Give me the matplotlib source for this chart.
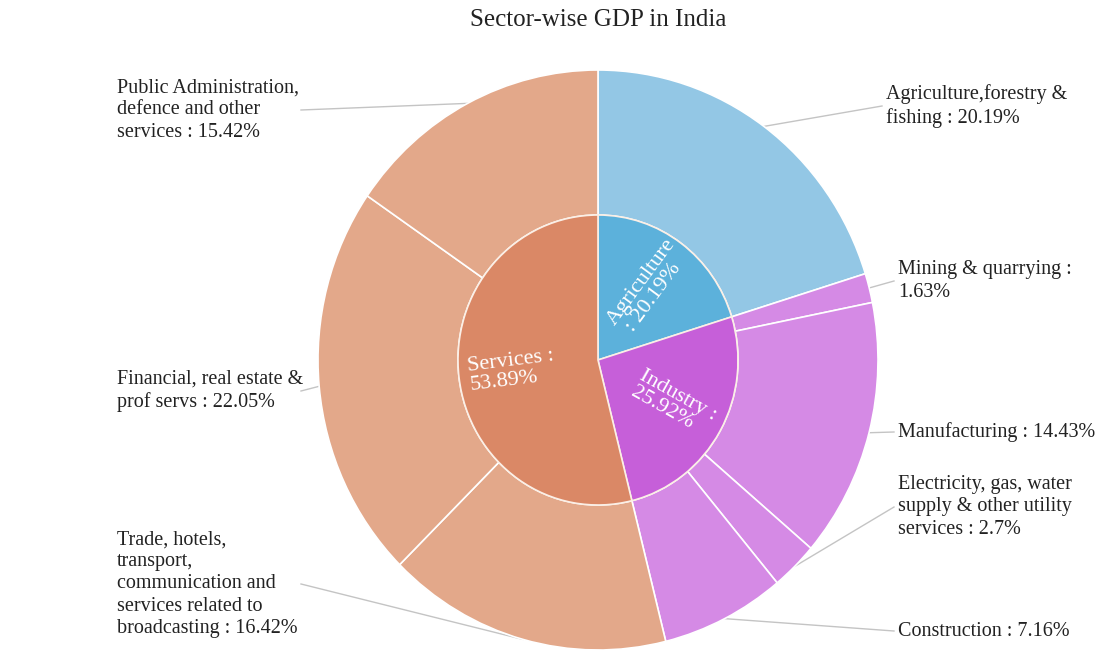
import numpy as np
import matplotlib.pyplot as plt

plt.rcParams['font.family'] = ['Liberation Serif', 'DejaVu Serif']

sectors = ['Agriculture', 'Industry', 'Services']
sector_vals = [20.19, 25.92, 53.89]
sector_cols = ['#5cb1db', '#c65fd9', '#da8866']

subs = ['Agriculture,forestry &\nfishing', 'Mining & quarrying :\n', 'Manufacturing',
        'Electricity, gas, water\nsupply & other utility\nservices', 'Construction',
        'Trade, hotels,\ntransport,\ncommunication and\nservices related to\nbroadcasting',
        'Financial, real estate &\nprof servs', 'Public Administration,\ndefence and other\nservices']
sub_vals = [20.19, 1.63, 14.43, 2.7, 7.16, 16.42, 22.05, 15.42]
sub_cols = ['#93c7e5', '#d58ae5', '#d58ae5', '#d58ae5', '#d58ae5',
            '#e3a88a', '#e3a88a', '#e3a88a']

# label anchor (pixel x, pixel y of block centre, side)
label_pos = [(886, 106, 'r'), (898, 281, 'r'), (898, 432, 'r'), (898, 507, 'r'),
             (898, 631, 'r'), (301, 584, 'l'), (301, 391, 'l'), (301, 110, 'l')]
left_text_x = 117

W, H = 1098, 659
cx, cy, rx, ry = 598, 360, 280, 290

fig = plt.figure(figsize=(W / 100, H / 100), dpi=100)
ax = fig.add_axes([(cx - rx) / W, (H - cy - ry) / H, 2 * rx / W, 2 * ry / H])


def px2d(x, y):
    return (x - cx) / rx, (cy - y) / ry


ax.pie(sub_vals, radius=1, colors=sub_cols, startangle=90, counterclock=False,
       wedgeprops=dict(width=0.5, edgecolor='white', linewidth=1.2), normalize=True)
ax.pie(sector_vals, radius=0.5, colors=sector_cols, startangle=90, counterclock=False,
       wedgeprops=dict(edgecolor='#fbefe6', linewidth=1.2), normalize=True)
ax.set_aspect('auto')
ax.set_xlim(-1, 1)
ax.set_ylim(-1, 1)
ax.axis('off')

# inner labels, radial
cum = np.cumsum([0] + sector_vals)
for i, name in enumerate(sectors):
    mid = 90 - (cum[i] + sector_vals[i] / 2) / 100 * 360
    rot = mid
    while rot > 90:
        rot -= 180
    while rot < -90:
        rot += 180
    r = 0.31
    if name == 'Agriculture':
        txt = f'{name}\n : {sector_vals[i]:.2f}%'
    else:
        txt = f'{name} :\n{sector_vals[i]:.2f}%'
    ax.text(r * np.cos(np.radians(mid)), r * np.sin(np.radians(mid)), txt,
            rotation=rot, rotation_mode='anchor', ha='center', va='center',
            multialignment='left', color='white', fontsize=16, linespacing=1.0)

# outer labels with leader lines
cum = np.cumsum([0] + sub_vals)
for i, name in enumerate(subs):
    mid = 90 - (cum[i] + sub_vals[i] / 2) / 100 * 360
    ex, ey = np.cos(np.radians(mid)), np.sin(np.radians(mid))
    lx, ly, side = label_pos[i]
    sx, sy = px2d(lx - 4 if side == 'r' else lx, ly)
    ax.plot([sx, ex], [sy, ey], color='#c4c4c4', lw=1, zorder=0, clip_on=False)
    vs = f'{sub_vals[i]:g}%'
    if name.endswith(':\n'):
        txt = name + vs
    else:
        txt = f'{name} : {vs}'
    tx = lx if side == 'r' else left_text_x
    tx, ty = px2d(tx, ly)
    ax.text(tx, ty, txt, ha='left', va='center', fontsize=14.5, color='#222222',
            linespacing=1.23, clip_on=False)

fig.text(598 / W, 1 - 20 / H, 'Sector-wise GDP in India', ha='center', va='center',
         fontsize=18, color='#222222')

fig.savefig('out.png', dpi=100)
